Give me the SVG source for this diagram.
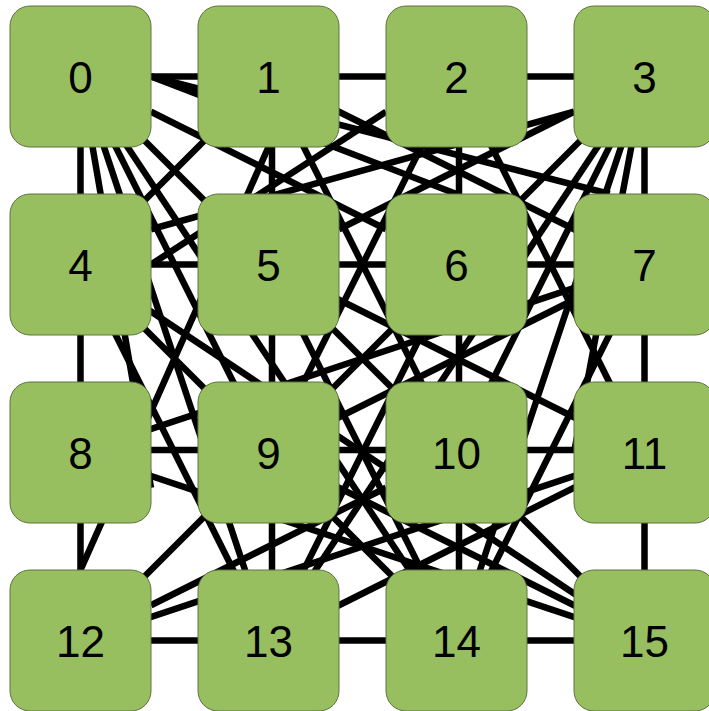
<svg xmlns="http://www.w3.org/2000/svg" width="709" height="711" viewBox="0 0 709 711">
<style>
.e{stroke:#000;stroke-width:6.5;fill:none;stroke-linecap:butt}
.n rect{fill:#97BF5F;stroke:#5E7440;stroke-width:1}
.n text{font-family:"Liberation Sans",Arial,sans-serif;font-size:44px;fill:#000;text-anchor:middle}
</style>
<rect width="709" height="711" fill="#fff"/>
<g id="connectors">
<line class="e" x1="80.5" y1="76.5" x2="644.5" y2="76.5"/>
<line class="e" x1="80.5" y1="264.5" x2="644.5" y2="264.5"/>
<line class="e" x1="80.5" y1="450" x2="644.5" y2="450"/>
<line class="e" x1="80.5" y1="640.5" x2="644.5" y2="640.5"/>
<line class="e" x1="80.5" y1="76.5" x2="80.5" y2="640.5"/>
<line class="e" x1="272" y1="76.5" x2="272" y2="640.5"/>
<line class="e" x1="459" y1="76.5" x2="459" y2="640.5"/>
<line class="e" x1="644.5" y1="76.5" x2="644.5" y2="640.5"/>
<line class="e" x1="80.5" y1="76.5" x2="644.5" y2="640.5"/>
<line class="e" x1="644.5" y1="76.5" x2="80.5" y2="640.5"/>
<line class="e" x1="151" y1="76.5" x2="456.5" y2="194"/>
<line class="e" x1="151" y1="76.5" x2="609.75" y2="194"/>
<line class="e" x1="151" y1="111.75" x2="386" y2="229.25"/>
<line class="e" x1="80.5" y1="76.5" x2="268.5" y2="640.5"/>
<line class="e" x1="80.5" y1="76.5" x2="268.5" y2="452.5"/>
<line class="e" x1="80.5" y1="76.5" x2="456.5" y2="640.5"/>
<line class="e" x1="80.5" y1="76.5" x2="151" y2="487.75"/>
<line class="e" x1="268.5" y1="147" x2="80.5" y2="570"/>
<line class="e" x1="268.5" y1="76.5" x2="80.5" y2="264.5"/>
<line class="e" x1="268.5" y1="76.5" x2="644.5" y2="264.5"/>
<line class="e" x1="268.5" y1="76.5" x2="456.5" y2="452.5"/>
<line class="e" x1="386" y1="111.75" x2="151" y2="264.5"/>
<line class="e" x1="456.5" y1="76.5" x2="268.5" y2="452.5"/>
<line class="e" x1="456.5" y1="76.5" x2="644.5" y2="452.5"/>
<line class="e" x1="151" y1="229.25" x2="574" y2="111.75"/>
<line class="e" x1="574" y1="111.75" x2="339" y2="229.25"/>
<line class="e" x1="644.5" y1="76.5" x2="456.5" y2="452.5"/>
<line class="e" x1="644.5" y1="76.5" x2="268.5" y2="640.5"/>
<line class="e" x1="644.5" y1="76.5" x2="456.5" y2="640.5"/>
<line class="e" x1="644.5" y1="76.5" x2="574" y2="452.5"/>
<line class="e" x1="80.5" y1="264.5" x2="456.5" y2="640.5"/>
<line class="e" x1="80.5" y1="264.5" x2="268.5" y2="640.5"/>
<line class="e" x1="80.5" y1="264.5" x2="644.5" y2="640.5"/>
<line class="e" x1="268.5" y1="264.5" x2="644.5" y2="452.5"/>
<line class="e" x1="268.5" y1="264.5" x2="456.5" y2="640.5"/>
<line class="e" x1="456.5" y1="264.5" x2="268.5" y2="640.5"/>
<line class="e" x1="644.5" y1="264.5" x2="268.5" y2="452.5"/>
<line class="e" x1="644.5" y1="264.5" x2="456.5" y2="640.5"/>
<line class="e" x1="644.5" y1="264.5" x2="80.5" y2="452.5"/>
<line class="e" x1="80.5" y1="452.5" x2="644.5" y2="640.5"/>
<line class="e" x1="268.5" y1="452.5" x2="644.5" y2="640.5"/>
<line class="e" x1="644.5" y1="452.5" x2="268.5" y2="640.5"/>
<line class="e" x1="151" y1="605.25" x2="386" y2="487.75"/>
<line class="e" x1="644.5" y1="452.5" x2="80.5" y2="640.5"/>
</g>
<g id="node0" class="n"><rect x="10" y="6" width="141" height="141" rx="20"/><text x="80.5" y="92.5">0</text></g>
<g id="node1" class="n"><rect x="198" y="6" width="141" height="141" rx="20"/><text x="268.5" y="92.5">1</text></g>
<g id="node2" class="n"><rect x="386" y="6" width="141" height="141" rx="20"/><text x="456.5" y="92.5">2</text></g>
<g id="node3" class="n"><rect x="574" y="6" width="141" height="141" rx="20"/><text x="644.5" y="92.5">3</text></g>
<g id="node4" class="n"><rect x="10" y="194" width="141" height="141" rx="20"/><text x="80.5" y="280.5">4</text></g>
<g id="node5" class="n"><rect x="198" y="194" width="141" height="141" rx="20"/><text x="268.5" y="280.5">5</text></g>
<g id="node6" class="n"><rect x="386" y="194" width="141" height="141" rx="20"/><text x="456.5" y="280.5">6</text></g>
<g id="node7" class="n"><rect x="574" y="194" width="141" height="141" rx="20"/><text x="644.5" y="280.5">7</text></g>
<g id="node8" class="n"><rect x="10" y="382" width="141" height="141" rx="20"/><text x="80.5" y="468.5">8</text></g>
<g id="node9" class="n"><rect x="198" y="382" width="141" height="141" rx="20"/><text x="268.5" y="468.5">9</text></g>
<g id="node10" class="n"><rect x="386" y="382" width="141" height="141" rx="20"/><text x="456.5" y="468.5">10</text></g>
<g id="node11" class="n"><rect x="574" y="382" width="141" height="141" rx="20"/><text x="644.5" y="468.5">11</text></g>
<g id="node12" class="n"><rect x="10" y="570" width="141" height="141" rx="20"/><text x="80.5" y="656.5">12</text></g>
<g id="node13" class="n"><rect x="198" y="570" width="141" height="141" rx="20"/><text x="268.5" y="656.5">13</text></g>
<g id="node14" class="n"><rect x="386" y="570" width="141" height="141" rx="20"/><text x="456.5" y="656.5">14</text></g>
<g id="node15" class="n"><rect x="574" y="570" width="141" height="141" rx="20"/><text x="644.5" y="656.5">15</text></g>
</svg>
